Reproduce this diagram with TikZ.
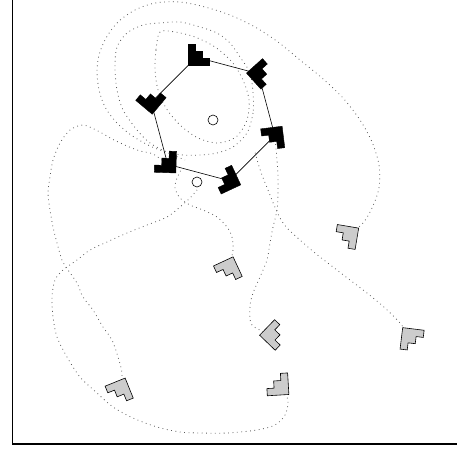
\documentclass[tikz,border=0pt]{standalone}
\usepackage{tikz}

\tikzset{
  piece/.pic={
    \path[pic actions] (-8.4,8.4) -- (13.2,8.4) -- (13.2,1.2) -- (6,1.2)
      -- (6,-6) -- (-1.2,-6) -- (-1.2,-13.2) -- (-8.4,-13.2) -- cycle;
  },
  goal/.style={draw=black, fill=black, line width=0.4pt},
  start/.style={draw=black, fill=gray!40, line width=0.6pt},
  trail/.style={gray!70!black, line width=0.8pt, dash pattern=on 0.8pt off 3.6pt},
  marker/.style={circle, draw=black, fill=white, line width=0.6pt, minimum size=10pt, inner sep=0pt},
}

\begin{document}
\begin{tikzpicture}[x=1pt, y=-1pt]
    \useasboundingbox (0,0) rectangle (457,450);

    % --- Positions ---
    \coordinate (h1) at (196.4,57.2);
    \coordinate (h2) at (258.3,73.7);
    \coordinate (h3) at (274.8,135.6);
    \coordinate (h4) at (229.6,180.8);
    \coordinate (h5) at (167.7,164.3);
    \coordinate (h6) at (151.2,102.4);

    \coordinate (s1) at (349,235);
    \coordinate (s2) at (229,268);
    \coordinate (s3) at (271.5,335);
    \coordinate (s4) at (410,337);
    \coordinate (s5) at (120.5,389);
    \coordinate (s6) at (280,386.6);

    % --- Trajectories ---
    \draw[trail] plot[smooth] coordinates {(s1) (363,223) (372,208) (379,188) (379,165) (372,142)
        (360,120) (343,98) (322,78) (300,60) (278,42) (255,27) (230,15) (205,7) (180,2) (155,3)
        (135,10) (118,22) (106,38) (99,55) (97,72) (99,90) (105,107) (116,122) (131,135)
        (150,146) (168,153) (185,160)};
    \draw[trail] plot[smooth cycle] coordinates {(253,93) (253,113) (247,133) (233,147) (217,153)
        (200,155) (183,155) (167,152) (150,143) (137,130) (123,110) (117,90) (115,67) (117,47)
        (127,33) (143,25) (160,23) (180,22) (200,27) (217,33) (230,43) (240,57) (250,73)};
    \draw[trail] plot[smooth cycle] coordinates {(160,32) (156,50) (155,70) (158,90) (166,108)
        (180,125) (198,138) (218,143) (236,137) (247,120) (249,100) (243,80) (232,62)
        (215,47) (195,37) (175,32)};
    \draw[trail] plot[smooth] coordinates {(s6) (288,400) (285,415) (275,425) (257,430) (227,433)
        (200,433) (180,432) (157,427) (133,418) (113,407) (97,393) (80,377) (67,357) (57,337)
        (53,317) (52,297) (55,280) (63,270) (77,260) (90,250) (107,242) (127,233) (147,225)
        (167,217) (180,207) (190,198) (197,190)};
    \draw[trail] plot[smooth] coordinates {(s5) (122,373) (118,357) (112,340) (103,327) (93,310)
        (83,297) (77,283) (68,270) (62,260) (57,243) (53,227) (50,210) (48,193) (50,177)
        (53,160) (60,143) (70,130) (83,125) (98,131) (112,139) (127,146) (140,151) (153,154) (h5)};
    \draw[trail] plot[smooth] coordinates {(s2) (233,250) (232,237) (227,227) (217,217) (203,210)
        (190,205) (180,198) (175,188) (177,178) (182,168)};
    \draw[trail] plot[smooth] coordinates {(s3) (252,325) (250,307) (253,293) (260,277) (267,260)
        (270,243) (273,227) (277,210) (278,193) (278,177) (277,160) (h3)};
    \draw[trail] plot[smooth] coordinates {(s4) (400,323) (385,308) (367,293) (350,280) (333,267)
        (315,253) (300,240) (287,228) (280,218) (274,205) (268,190) (262,175) (258,163) (255,152)};

    % --- Goal formation ---
    \draw[line width=0.6pt] (h1) -- (h2) -- (h3) -- (h4) -- (h5) -- (h6) -- cycle;
    \node[marker] (ctr) at (213,120) {};
    \node[marker] (aux) at (197,182) {};

    \pic[goal, rotate=0]   (p1) at (h1) {piece};
    \pic[goal, rotate=-48] (p2) at (h2) {piece};
    \pic[goal, rotate=187] (p3) at (h3) {piece};
    \pic[goal, rotate=115] (p4) at (h4) {piece};
    \pic[goal, rotate=88]  (p5) at (h5) {piece};
    \pic[goal, rotate=50]  (p6) at (h6) {piece};

    % --- Start positions ---
    \pic[start, rotate=170.5] (q1) at (s1) {piece};
    \pic[start, rotate=205]   (q2) at (s2) {piece};
    \pic[start, rotate=-44]   (q3) at (s3) {piece};
    \pic[start, rotate=-97]   (q4) at (s4) {piece};
    \pic[start, rotate=202]   (q5) at (s5) {piece};
    \pic[start, rotate=93.4]  (q6) at (s6) {piece};

    % --- Frame ---
    \draw[line width=1.5pt] (12.5,0) -- (12.5,444) -- (457,444);
\end{tikzpicture}
\end{document}
